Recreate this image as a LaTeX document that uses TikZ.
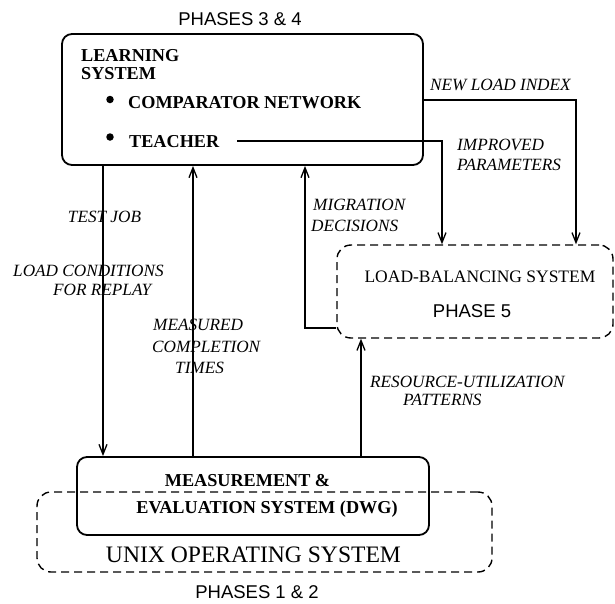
\documentclass[tikz,border=0pt]{standalone}
\usepackage{fontspec}
\setmainfont{Liberation Serif}
\newfontfamily\helv{Liberation Sans}
\usetikzlibrary{arrows.meta}
\begin{document}
\begin{tikzpicture}[x=1pt,y=-1pt,
  solidbox/.style={draw, line width=1.8pt, rounded corners=10pt, inner sep=0pt},
  dashbox/.style={draw, line width=1.4pt, rounded corners=14pt, dash pattern=on 8pt off 5pt, inner sep=0pt},
  arr/.style={line width=1.3pt, -{Straight Barb[length=10pt,width=8pt]}},
  boldtxt/.style={inner sep=0pt, font=\fontsize{18.2}{20}\selectfont\bfseries},
  lbl/.style={inner sep=0pt, font=\fontsize{17.2}{19}\selectfont\itshape},
  rmtxt/.style={inner sep=0pt, font=\fontsize{17.5}{20}\selectfont},
  unixtxt/.style={inner sep=0pt, font=\fontsize{23.6}{26}\selectfont},
  phtxt/.style={inner sep=0pt, font=\helv\fontsize{18.5}{20}\selectfont},
  bullet/.style={circle, fill, inner sep=0pt, minimum size=7.5pt}
]
\useasboundingbox (0,0) rectangle (615,603);

% boxes
\node[solidbox, minimum width=361pt, minimum height=131pt] (learn) at (242.5,99.5) {};
\node[dashbox, minimum width=276pt, minimum height=93pt] (lb) at (475,291.5) {};
\node[solidbox, minimum width=352pt, minimum height=78pt] (mes) at (253,496) {};
\node[dashbox, minimum width=455pt, minimum height=80pt] (unix) at (264.5,532) {};

% texts in boxes
\node[phtxt, anchor=base] (ph34) at (240,25) {PHASES 3 \& 4};
\node[boldtxt, anchor=base west] (learn1) at (81,61) {LEARNING};
\node[boldtxt, anchor=base west] (learn2) at (81,79) {SYSTEM};
\node[bullet] (b1) at (110,99.5) {};
\node[boldtxt, anchor=base west] (comp) at (128,108) {COMPARATOR NETWORK};
\node[bullet] (b2) at (110,137) {};
\node[boldtxt, anchor=base west] (teacher) at (129,147) {TEACHER};

\node[rmtxt, anchor=base] (lbt) at (480,282) {LOAD-BALANCING SYSTEM};
\node[phtxt, anchor=base] (ph5) at (472,317) {PHASE 5};

\node[boldtxt, anchor=base] (mes1) at (247.5,486) {MEASUREMENT \&};
\node[boldtxt, anchor=base] (mes2) at (267,513) {EVALUATION SYSTEM (DWG)};
\node[unixtxt, anchor=base] (unixt) at (253.5,562) {UNIX OPERATING SYSTEM};
\node[phtxt, anchor=base] (ph12) at (257,598) {PHASES 1 \& 2};

% connector helper coordinates
\coordinate (xtest) at (103,0);
\coordinate (xmeas) at (193,0);
\coordinate (xmig) at (305,0);
\coordinate (xres) at (361,0);
\coordinate (xpar) at (442,0);
\coordinate (xnew) at (576,0);
\coordinate (ynew) at (0,100);
\coordinate (ymig) at (0,328);
\coordinate (tstart) at (237,141);
\coordinate (tcorner) at (442,141);
\coordinate (ncorner) at (576,100);
\coordinate (mcorner) at (305,328);

% connectors
\draw[arr] (learn.south -| xtest) -- (mes.north -| xtest);
\draw[arr] (mes.north -| xmeas) -- (learn.south -| xmeas);
\draw[arr] (lb.west |- ymig) -- (mcorner) -- (learn.south -| xmig);
\draw[arr] (mes.north -| xres) -- (lb.south -| xres);
\draw[arr] (tstart) -- (tcorner) -- (lb.north -| xpar);
\draw[arr] (learn.east |- ynew) -- (ncorner) -- (lb.north -| xnew);

% labels
\node[lbl, anchor=base] (l1) at (104.5,222) {TEST JOB};
\node[lbl, anchor=base west] (l2a) at (13,276) {LOAD CONDITIONS};
\node[lbl, anchor=base west] (l2b) at (53,295) {FOR REPLAY};
\node[lbl, anchor=base west] (l3a) at (153,330) {MEASURED};
\node[lbl, anchor=base west] (l3b) at (152,352) {COMPLETION};
\node[lbl, anchor=base west] (l3c) at (175,373) {TIMES};
\node[lbl, anchor=base west] (l4a) at (313,210) {MIGRATION};
\node[lbl, anchor=base west] (l4b) at (311,231) {DECISIONS};
\node[lbl, anchor=base west] (l5a) at (370,387) {RESOURCE-UTILIZATION};
\node[lbl, anchor=base west] (l5b) at (403,405) {PATTERNS};
\node[lbl, anchor=base west] (l6a) at (457,150) {IMPROVED};
\node[lbl, anchor=base west] (l6b) at (457,170) {PARAMETERS};
\node[lbl, anchor=base west] (l7) at (430,90) {NEW LOAD INDEX};
\end{tikzpicture}
\end{document}
